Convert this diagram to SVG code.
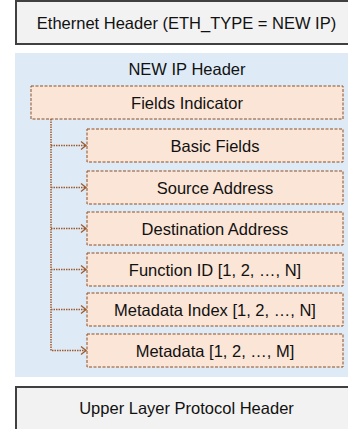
<svg xmlns="http://www.w3.org/2000/svg" width="348" height="429" viewBox="0 0 348 429">
  <style>
    .hdr { fill: #f2f2f2; stroke: #404040; stroke-width: 2; }
    .field { fill: #fbe5d6; stroke: #8f4f22; stroke-width: 1; stroke-dasharray: 3 1.5; }
    .lbl { font-family: "Liberation Sans", Arial, sans-serif; font-size: 16.5px; fill: #111; text-anchor: middle; }
    .link { fill: none; stroke: #a0592a; stroke-width: 1.5; stroke-dasharray: 1.5 1; }
    .head { fill: none; stroke: #a0592a; stroke-width: 1.3; }
  </style>

  <!-- Ethernet header -->
  <g id="eth">
    <rect class="hdr" x="16" y="1" width="345" height="43"/>
    <text class="lbl" x="186.5" y="29">Ethernet Header (ETH_TYPE = NEW IP)</text>
  </g>

  <!-- NEW IP header container -->
  <g id="newip">
    <rect x="15" y="53" width="340" height="324" fill="#deebf7"/>
    <text class="lbl" x="187" y="75">NEW IP Header</text>
  </g>

  <g id="fields-indicator">
    <rect class="field" x="31" y="86" width="312" height="33"/>
    <text class="lbl" x="187" y="108.5">Fields Indicator</text>
  </g>
  <g id="basic-fields">
    <rect class="field" x="87" y="129" width="256" height="33"/>
    <text class="lbl" x="215" y="151.5">Basic Fields</text>
  </g>
  <g id="source-address">
    <rect class="field" x="87" y="171" width="256" height="33"/>
    <text class="lbl" x="215" y="193.5">Source Address</text>
  </g>
  <g id="destination-address">
    <rect class="field" x="87" y="212" width="256" height="33"/>
    <text class="lbl" x="215" y="234.5">Destination Address</text>
  </g>
  <g id="function-id">
    <rect class="field" x="87" y="253" width="256" height="33"/>
    <text class="lbl" x="215" y="275.5">Function ID [1, 2, …, N]</text>
  </g>
  <g id="metadata-index">
    <rect class="field" x="87" y="293" width="256" height="33"/>
    <text class="lbl" x="215" y="315.5">Metadata Index [1, 2, …, N]</text>
  </g>
  <g id="metadata">
    <rect class="field" x="87" y="334" width="256" height="33"/>
    <text class="lbl" x="215" y="356.5">Metadata [1, 2, …, M]</text>
  </g>

  <!-- Upper layer header -->
  <g id="upper">
    <rect class="hdr" x="16" y="387" width="345" height="50"/>
    <text class="lbl" x="186.5" y="414">Upper Layer Protocol Header</text>
  </g>

  <!-- Connectors from the fields indicator -->
  <g id="connectors">
    <path class="link" d="M51 119 V350.5 H86 M51 145.5 H86 M51 187.5 H86 M51 228.5 H86 M51 269.5 H86 M51 309.5 H86"/>
    <path class="head" d="M81 141.5 L86 145.5 L81 149.5 M81 183.5 L86 187.5 L81 191.5 M81 224.5 L86 228.5 L81 232.5 M81 265.5 L86 269.5 L81 273.5 M81 305.5 L86 309.5 L81 313.5 M81 346.5 L86 350.5 L81 354.5"/>
  </g>
</svg>
